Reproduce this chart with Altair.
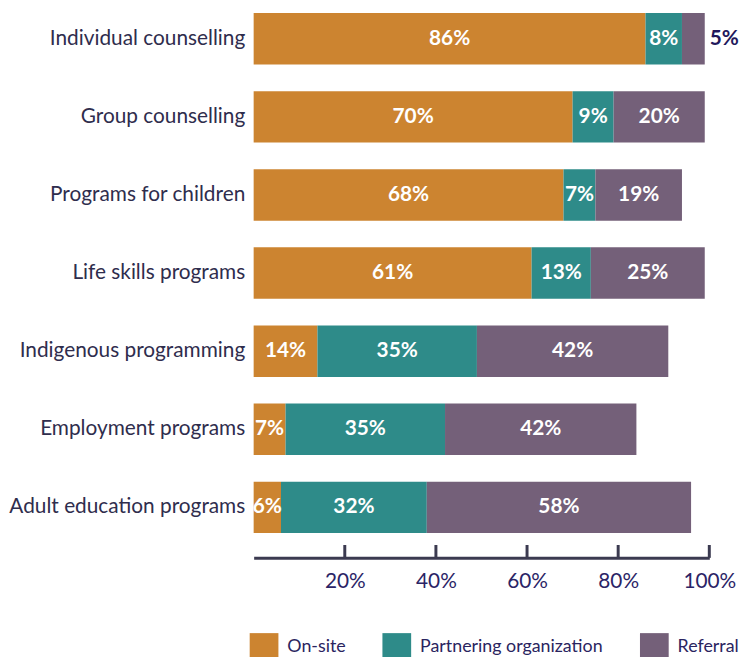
import altair as alt
import pandas as pd

categories = [
    "Individual counselling",
    "Group counselling",
    "Programs for children",
    "Life skills programs",
    "Indigenous programming",
    "Employment programs",
    "Adult education programs",
]
onsite = [86, 70, 68, 61, 14, 7, 6]
partnering = [8, 9, 7, 13, 35, 35, 32]
referral = [5, 20, 19, 25, 42, 42, 58]

series = ["On-site", "Partnering organization", "Referral"]
colors = ["#CC8430", "#2E8B89", "#746079"]
tick_values = [20, 40, 60, 80, 100]

rows = []
for i, cat in enumerate(categories):
    start = 0
    for k, (s, vals) in enumerate(zip(series, [onsite, partnering, referral])):
        v = vals[i]
        rows.append(dict(category=cat, series=s, value=v, start=start, end=start + v,
                         mid=start + v / 2, label=f"{v}%", outside=bool(v < 6), order=k))
        start += v
df = pd.DataFrame(rows)
ticks_df = pd.DataFrame({"t": tick_values})

FONT = "Lato"
AXIS_COLOR = "#3b3a50"

y_enc = alt.Y(
    "category:N", sort=categories,
    scale=alt.Scale(paddingInner=0.342, paddingOuter=0.025),
    axis=alt.Axis(title=None, domain=False, ticks=False, labelFont=FONT, labelFontSize=21,
                  labelColor="#2f2d4d", labelPadding=9, labelLimit=400),
)
x_enc = alt.X(
    "start:Q",
    scale=alt.Scale(domain=[0, 100], nice=False),
    axis=alt.Axis(title=None, values=tick_values, labelExpr="datum.value + '%'", grid=False,
                  ticks=False, domainWidth=3, domainColor=AXIS_COLOR, offset=23,
                  labelPadding=13, labelFlush=False, labelFont=FONT, labelFontSize=21,
                  labelColor="#2b2466"),
)

bars = alt.Chart(df).mark_bar(strokeWidth=0).encode(
    y=y_enc,
    x=x_enc,
    x2="end:Q",
    color=alt.Color(
        "series:N",
        scale=alt.Scale(domain=series, range=colors),
        legend=alt.Legend(title=None, orient="none", legendX=-4, legendY=628,
                          direction="horizontal", symbolType="square", symbolSize=841,
                          symbolStrokeWidth=0, symbolOpacity=1, labelFont=FONT,
                          labelFontSize=18, labelColor="#2a2460", labelOffset=9,
                          labelLimit=400, columnPadding=37),
    ),
    order="order:Q",
)

inside_text = alt.Chart(df).transform_filter("!datum.outside").mark_text(
    font=FONT, fontWeight="bold", fontSize=21, color="white"
).encode(y=alt.Y("category:N", sort=categories), x="mid:Q", text="label:N")

outside_text = alt.Chart(df).transform_filter("datum.outside").mark_text(
    font=FONT, fontWeight="bold", fontSize=21, color="#22185c", align="left", dx=5
).encode(y=alt.Y("category:N", sort=categories), x="end:Q", text="label:N")

tick_rules = alt.Chart(ticks_df).mark_rule(color=AXIS_COLOR, strokeWidth=3).encode(
    x="t:Q", y=alt.value(539), y2=alt.value(552)
)

chart = alt.layer(bars, inside_text, outside_text, tick_rules).properties(
    width=460,
    height=529,
    autosize=alt.AutoSizeParams(type="none"),
    padding={"left": 248, "top": 0, "right": 32, "bottom": 120},
).configure_view(stroke=None)

chart.save("out.html", embed_options={"renderer": "svg", "actions": False})
